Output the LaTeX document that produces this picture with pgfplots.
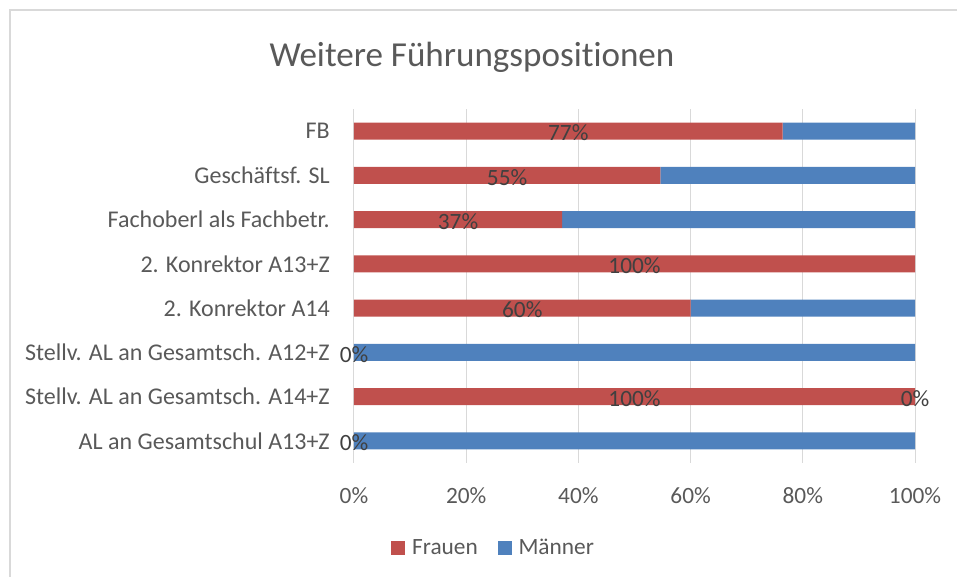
\documentclass[border=0pt]{standalone}
\usepackage{fontspec}
\setmainfont{Carlito}[Ligatures=NoCommon]
\usepackage{pgfplots}
\pgfplotsset{compat=1.18}
\definecolor{frauen}{HTML}{C0504D}
\definecolor{maenner}{HTML}{4F81BD}
\definecolor{gridgray}{HTML}{D9D9D9}
\definecolor{txt}{HTML}{595959}
\definecolor{lbl}{HTML}{404040}

\begin{document}
\begin{tikzpicture}[x=0.75pt,y=0.75pt]
\useasboundingbox (0,0) rectangle (957,577);
\draw[gridgray, line width=1.5pt] (9.5,0) -- (9.5,567) -- (957,567);
\node[txt, font=\fontsize{26.3}{32}\selectfont, anchor=base, inner sep=0pt] at (472,510) {Weitere Führungspositionen};

\begin{axis}[
  at={(265.5pt,85.5pt)}, anchor=south west,
  scale only axis, width=420.75pt, height=265.5pt,
  xbar stacked, bar width=12.75pt,
  xmin=0, xmax=100, ymin=-0.5, ymax=7.5,
  xtick={0,20,40,60,80,100},
  xticklabels={0\%,20\%,40\%,60\%,80\%,100\%},
  ytick={0,1,2,3,4,5,6,7},
  yticklabels={AL an Gesamtschul A13+Z,Stellv. AL an Gesamtsch. A14+Z,Stellv. AL an Gesamtsch. A12+Z,2. Konrektor A14,2. Konrektor A13+Z,Fachoberl als Fachbetr.,Geschäftsf. SL,FB},
  axis line style={draw=none}, major tick style={draw=none},
  xmajorgrids, grid style={gridgray, line width=0.75pt},
  xticklabel style={font=\fontsize{17.5}{21}\selectfont, text=txt, inner sep=0pt, anchor=north, yshift=-18pt},
  yticklabel style={font=\fontsize{18}{21}\selectfont, text=txt, inner sep=0pt, anchor=east, xshift=-18pt},
  legend columns=2,
  legend style={at={(0.2496,-0.240)}, anchor=center, draw=none, fill=none,
    font=\fontsize{17.5}{21}\selectfont, text=txt,
    /tikz/every odd column/.append style={column sep=3pt},
    /tikz/every even column/.append style={column sep=13pt}},
  legend image code/.code={\fill[#1] (0pt,-5.25pt) rectangle (10.5pt,5.25pt);},
]
\addplot[fill=frauen, draw=none]
  coordinates {(0,0)(100,1)(0,2)(60,3)(100,4)(37.1,5)(54.6,6)(76.4,7)};
\addlegendentry{Frauen}
\addplot[fill=maenner, draw=none]
  coordinates {(100,0)(0,1)(100,2)(40,3)(0,4)(62.9,5)(45.4,6)(23.6,7)};
\addlegendentry{Männer}
\end{axis}

\begin{axis}[
  at={(265.5pt,85.5pt)}, anchor=south west,
  scale only axis, width=420.75pt, height=265.5pt,
  xmin=0, xmax=100, ymin=-0.5, ymax=7.5,
  hide axis, clip=false,
]
\addplot[only marks, mark=none, point meta=explicit symbolic,
  nodes near coords,
  nodes near coords style={anchor=center, text=lbl, inner sep=0pt, yshift=-1.5pt,
    font=\fontsize{17.5}{21}\selectfont}]
  coordinates {(38.2,7)[77\%] (27.3,6)[55\%] (18.55,5)[37\%] (50,4)[100\%]
               (30,3)[60\%] (0,2)[0\%] (50,1)[100\%] (100,1)[0\%] (0,0)[0\%]};
\end{axis}
\end{tikzpicture}
\end{document}
